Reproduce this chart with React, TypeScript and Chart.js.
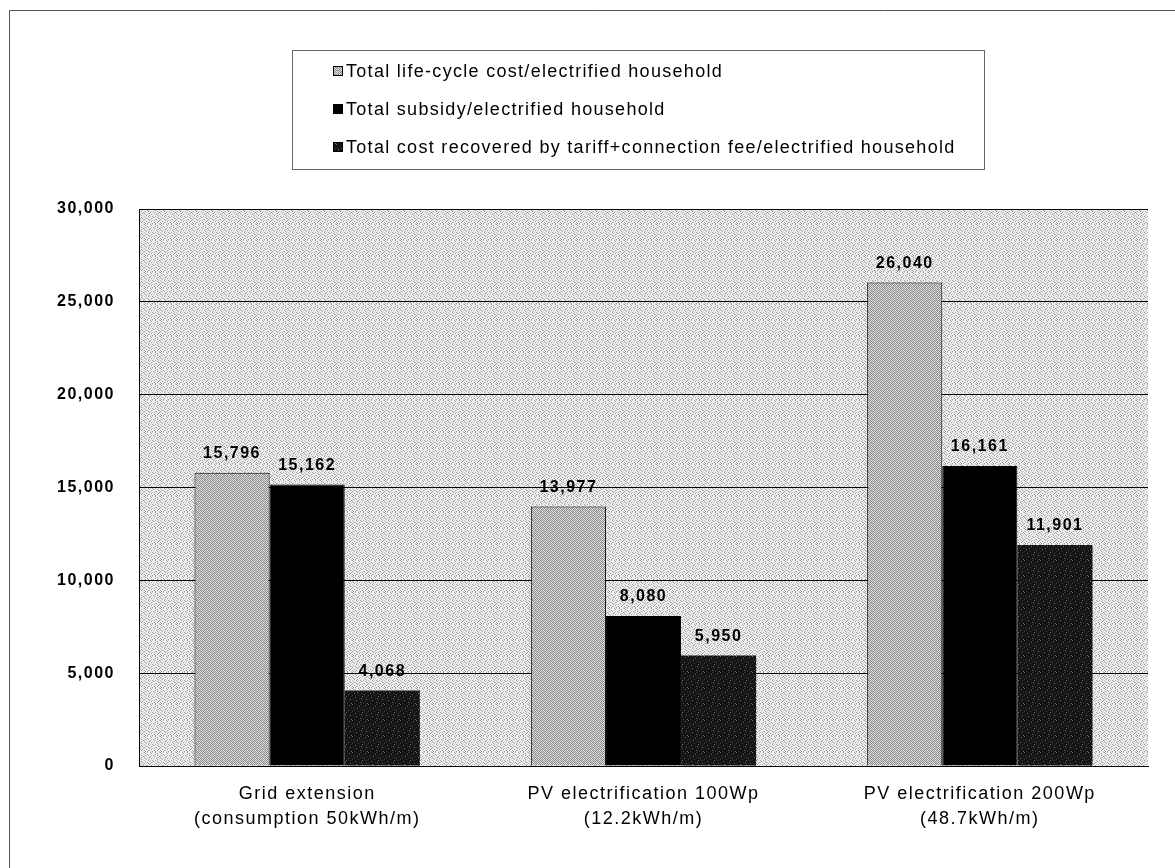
import React, { useEffect, useRef } from "react";
import { Chart, registerables } from "chart.js";

Chart.register(...registerables);

const categories: string[][] = [
  ["Grid extension", "(consumption 50kWh/m)"],
  ["PV electrification 100Wp", "(12.2kWh/m)"],
  ["PV electrification 200Wp", "(48.7kWh/m)"],
];
const seriesNames: string[] = [
  "Total life-cycle cost/electrified household",
  "Total subsidy/electrified household",
  "Total cost recovered by tariff+connection fee/electrified household",
];
const lifeCycleCost: number[] = [15796, 13977, 26040];
const subsidy: number[] = [15162, 8080, 16161];
const costRecovered: number[] = [4068, 5950, 11901];
const yMin = 0;
const yMax = 30000;
const yStep = 5000;

const FONT = "'Liberation Sans', Arial, sans-serif";

function makePattern(
  colors: string[],
  tile: string[]
): CanvasPattern | string {
  const c = document.createElement("canvas");
  const h = tile.length;
  const w = tile[0].length;
  c.width = w;
  c.height = h;
  const x = c.getContext("2d");
  if (!x) return colors[0];
  for (let r = 0; r < h; r++) {
    for (let k = 0; k < w; k++) {
      const idx = Number(tile[r][k]) || 0;
      x.fillStyle = colors[idx];
      x.fillRect(k, r, 1, 1);
    }
  }
  const p = x.createPattern(c, "repeat");
  return p || colors[0];
}

export default function App() {
  const ref = useRef<HTMLCanvasElement | null>(null);

  useEffect(() => {
    const canvas = ref.current;
    if (!canvas) return;

    const bgPattern = makePattern(["#f2f2f2", "#9c9c9c", "#c9c9c9"], [
      "1002001020010002",
      "0120000100200100",
      "0001020000010020",
      "2100100201000100",
      "0020001000120001",
      "1000210020000210",
      "0102000100201000",
      "0010010002000102",
      "2000102010010020",
      "0100020001200100",
      "0021000120000012",
      "1000101000021000",
      "0200010020100201",
      "0012000100002010",
      "1000120002100100",
      "0101000210010002",
    ]);
    const bar1Pattern = makePattern(["#e4e4e4", "#8e8e8e", "#bdbdbd"], [
      "10101210",
      "01210101",
      "10101012",
      "21010101",
      "10121010",
      "01010121",
      "12101010",
      "01012101",
    ]);
    const bar3Pattern = makePattern(["#141414", "#6e6e6e", "#3a3a3a"], [
      "1000000020000000",
      "0000200000000100",
      "0000000100000000",
      "0200000000020000",
      "0000010000000002",
      "0010000002000000",
      "0000000000001000",
      "2000002000000000",
      "0000000000100020",
      "0001000000000000",
      "0000000201000000",
      "0200000000000010",
      "0000100000200000",
      "0000000000000200",
      "0020000010000000",
      "0000000000020001",
    ]);

    const spacing = {
      id: "spacing",
      beforeLayout(chart: any) {
        chart.ctx.letterSpacing = "1.5px";
      },
      beforeDraw(chart: any) {
        chart.ctx.letterSpacing = "1.5px";
      },
    };

    const frame = {
      id: "frame",
      beforeDraw(chart: any) {
        const ctx = chart.ctx;
        const a = chart.chartArea;
        ctx.save();
        ctx.fillStyle = "#ffffff";
        ctx.fillRect(0, 0, chart.width, chart.height);
        ctx.strokeStyle = "#555555";
        ctx.lineWidth = 1;
        ctx.beginPath();
        ctx.moveTo(9.5, chart.height);
        ctx.lineTo(9.5, 10.5);
        ctx.lineTo(chart.width, 10.5);
        ctx.stroke();
        ctx.fillStyle = bgPattern;
        ctx.fillRect(a.left, a.top, a.right - a.left, a.bottom - a.top);
        ctx.restore();
      },
    };

    const legendBox = {
      id: "legendBox",
      afterDraw(chart: any) {
        const ctx = chart.ctx;
        ctx.save();
        ctx.letterSpacing = "1.3px";
        ctx.strokeStyle = "#666666";
        ctx.lineWidth = 1;
        ctx.strokeRect(292.5, 50.5, 692, 119);
        const rows = [71, 109, 147];
        chart.data.datasets.forEach((ds: any, i: number) => {
          const y = rows[i];
          ctx.fillStyle = ds.backgroundColor;
          ctx.fillRect(333, y - 5, 10, 10);
          ctx.strokeStyle = "#000000";
          ctx.strokeRect(333.5, y - 4.5, 9, 9);
          ctx.fillStyle = "#000000";
          ctx.font = `18px ${FONT}`;
          ctx.textAlign = "left";
          ctx.textBaseline = "middle";
          ctx.fillText(ds.label, 346, y + 1);
        });
        ctx.restore();
      },
    };

    const valueLabels = {
      id: "valueLabels",
      afterDatasetsDraw(chart: any) {
        const ctx = chart.ctx;
        ctx.save();
        ctx.letterSpacing = "1.5px";
        ctx.font = `bold 16px ${FONT}`;
        ctx.fillStyle = "#000000";
        ctx.textAlign = "center";
        ctx.textBaseline = "bottom";
        chart.data.datasets.forEach((ds: any, i: number) => {
          const meta = chart.getDatasetMeta(i);
          meta.data.forEach((bar: any, j: number) => {
            const v = ds.data[j];
            ctx.fillText(v.toLocaleString("en-US"), bar.x, bar.y - 11);
          });
        });
        ctx.restore();
      },
    };

    const chart = new Chart(canvas, {
      type: "bar",
      data: {
        labels: categories,
        datasets: [
          {
            label: seriesNames[0],
            data: lifeCycleCost,
            backgroundColor: bar1Pattern as any,
            borderColor: "#000000",
            borderWidth: 1,
            categoryPercentage: 0.67,
            barPercentage: 1,
          },
          {
            label: seriesNames[1],
            data: subsidy,
            backgroundColor: "#000000",
            borderColor: "#000000",
            borderWidth: 1,
            categoryPercentage: 0.67,
            barPercentage: 1,
          },
          {
            label: seriesNames[2],
            data: costRecovered,
            backgroundColor: bar3Pattern as any,
            borderColor: "#000000",
            borderWidth: 0,
            categoryPercentage: 0.67,
            barPercentage: 1,
          },
        ],
      },
      options: {
        animation: false,
        responsive: false,
        maintainAspectRatio: false,
        devicePixelRatio: 1,
        layout: { padding: { top: 209, left: 10, right: 27, bottom: 0 } },
        plugins: {
          legend: { display: false },
          tooltip: { enabled: false },
          title: { display: false },
        },
        scales: {
          x: {
            grid: { display: false, drawTicks: false },
            border: { display: true, color: "#000000", width: 1 },
            ticks: {
              color: "#000000",
              font: { family: FONT, size: 18, lineHeight: 1.42 },
              padding: 15,
              maxRotation: 0,
              autoSkip: false,
            },
            afterFit(scale: any) {
              scale.height = 102;
            },
          } as any,
          y: {
            min: yMin,
            max: yMax,
            grid: { color: "#000000", lineWidth: 1, drawTicks: false },
            border: { display: true, color: "#000000", width: 1 },
            ticks: {
              stepSize: yStep,
              color: "#000000",
              font: { family: FONT, size: 16, weight: "bold" },
              padding: 24,
              callback: (v: any) => Number(v).toLocaleString("en-US"),
            },
            afterFit(scale: any) {
              scale.width = 129;
            },
          } as any,
        },
      },
      plugins: [spacing, frame, valueLabels, legendBox],
    });

    return () => chart.destroy();
  }, []);

  return (
    <div style={{ position: "fixed", left: 0, top: 0, width: 1175, height: 868 }}>
      <canvas ref={ref} width={1175} height={868} style={{ display: "block" }} />
    </div>
  );
}
